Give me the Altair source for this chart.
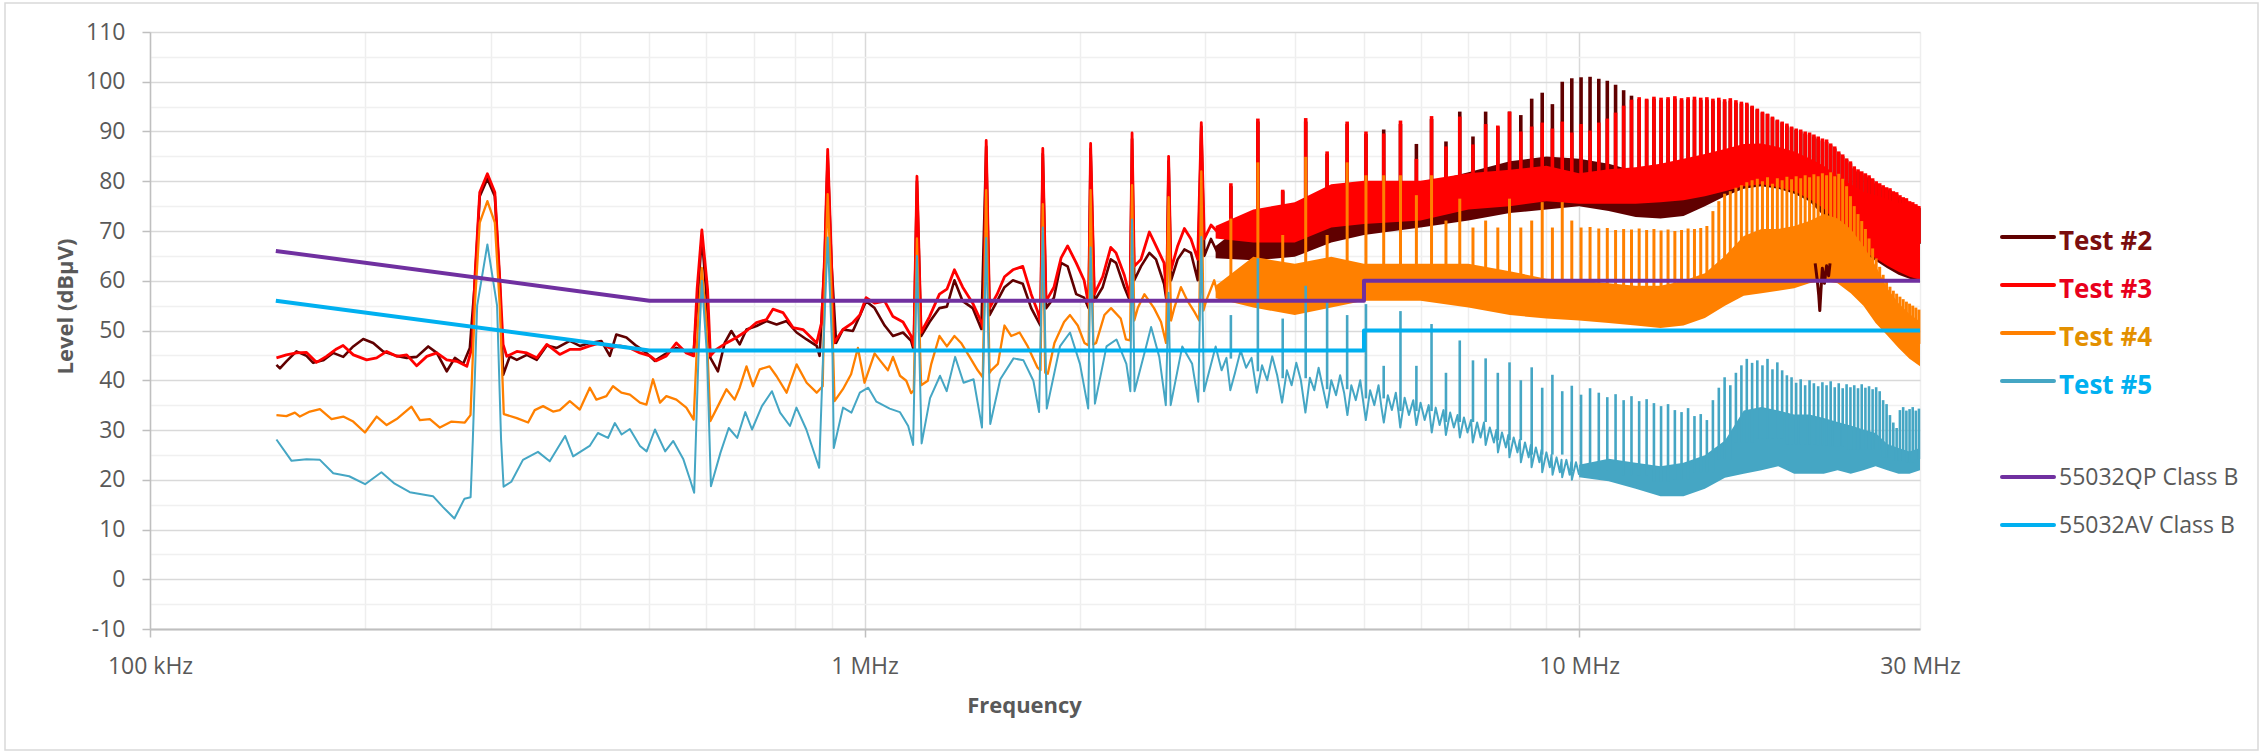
import altair as alt
import pandas as pd
import numpy as np

# ---------------- data (frequency in MHz, level in dBuV) ----------------
T2_F = [0.1503, 0.1520, 0.1552, 0.1603, 0.1656, 0.1692, 0.1747, 0.1804, 0.1864, 0.1925,
        0.1988, 0.2053, 0.2120, 0.2214, 0.2287, 0.2362, 0.2451, 0.2520, 0.2602, 0.2671,
        0.2744, 0.2803, 0.2848, 0.2894, 0.2966, 0.3038, 0.3087, 0.3121, 0.3188, 0.3261,
        0.3368, 0.3478, 0.3592, 0.3710, 0.3868, 0.3995, 0.4126, 0.4282, 0.4401, 0.4494,
        0.4642, 0.4795, 0.4951, 0.5086, 0.5252, 0.5453, 0.5631, 0.5766, 0.5847, 0.5920,
        0.6005, 0.6085, 0.6235, 0.6372, 0.6510, 0.6687, 0.6836, 0.7060, 0.7292, 0.7532,
        0.7779, 0.8034, 0.8298, 0.8571, 0.8652, 0.8794, 0.8880, 0.8985, 0.9125, 0.9327,
        0.9632, 0.9851, 1.0050, 1.0330, 1.0670, 1.0960, 1.1320, 1.1620, 1.1720, 1.1840,
        1.2000, 1.2330, 1.2730, 1.3040, 1.3360, 1.3720, 1.4170, 1.4570, 1.4800, 1.4960,
        1.5330, 1.5700, 1.6130, 1.6650, 1.7110, 1.7630, 1.7760, 1.7950, 1.8410, 1.8840,
        1.9240, 1.9780, 2.0290, 2.0590, 2.0720, 2.0970, 2.1540, 2.2110, 2.2490, 2.3100,
        2.3530, 2.3680, 2.3850, 2.4370, 2.5040, 2.5580, 2.6250, 2.6470, 2.6640, 2.6850,
        2.7430, 2.8030, 2.8630, 2.9260, 2.9600, 2.9890, 3.0540, 3.1200]
T2_V = [43.1, 42.4, 43.8, 45.8, 44.9, 43.5, 44.0, 45.5, 44.7, 46.8,
        48.3, 47.5, 45.8, 44.9, 44.5, 44.7, 46.8, 45.5, 41.8, 44.5,
        43.3, 46.5, 59.5, 77.0, 80.5, 77.0, 59.5, 41.1, 44.8, 44.1,
        45.1, 44.1, 47.0, 46.5, 47.9, 46.9, 47.5, 47.9, 44.9, 49.2,
        48.6, 46.9, 45.5, 43.9, 45.2, 46.5, 45.9, 45.5, 57.5, 69.0,
        57.5, 44.5, 41.8, 47.5, 49.9, 47.2, 50.2, 50.9, 51.9, 51.2,
        51.9, 49.6, 48.2, 46.9, 44.9, 64.0, 85.0, 64.0, 47.5, 50.2,
        49.9, 53.0, 55.9, 54.5, 51.0, 48.9, 49.6, 47.9, 46.0, 80.0,
        48.9, 51.7, 54.5, 54.8, 60.1, 55.9, 54.5, 50.3, 87.0, 53.1,
        55.9, 58.7, 60.1, 59.4, 54.5, 51.0, 85.5, 54.5, 56.6, 63.6,
        62.9, 57.3, 56.6, 54.5, 86.5, 55.9, 58.7, 64.3, 63.6, 58.7,
        55.9, 88.5, 60.1, 62.9, 65.6, 64.3, 59.4, 55.9, 84.0, 60.1,
        64.3, 66.3, 65.6, 60.1, 91.0, 65.0, 68.4, 65.6]

T3_F = [0.1503, 0.1552, 0.1603, 0.1656, 0.1710, 0.1766, 0.1824, 0.1863, 0.1926, 0.2010,
        0.2076, 0.2144, 0.2214, 0.2287, 0.2362, 0.2440, 0.2520, 0.2602, 0.2688, 0.2776,
        0.2825, 0.2848, 0.2894, 0.2966, 0.3038, 0.3087, 0.3120, 0.3157, 0.3261, 0.3368,
        0.3478, 0.3592, 0.3745, 0.3868, 0.3995, 0.4126, 0.4262, 0.4401, 0.4546, 0.4695,
        0.4849, 0.5008, 0.5112, 0.5280, 0.5453, 0.5631, 0.5766, 0.5830, 0.5920, 0.6030,
        0.6085, 0.6204, 0.6408, 0.6618, 0.6836, 0.7060, 0.7292, 0.7444, 0.7688, 0.7940,
        0.8200, 0.8571, 0.8708, 0.8794, 0.8880, 0.8985, 0.9061, 0.9327, 0.9632, 0.9851,
        1.0050, 1.0330, 1.0670, 1.0960, 1.1320, 1.1620, 1.1720, 1.1840, 1.2000, 1.2330,
        1.2730, 1.3040, 1.3360, 1.3720, 1.4170, 1.4570, 1.4670, 1.4800, 1.4960, 1.5330,
        1.5700, 1.6130, 1.6650, 1.7110, 1.7470, 1.7630, 1.7760, 1.7950, 1.8410, 1.8840,
        1.9240, 1.9780, 2.0290, 2.0590, 2.0720, 2.0970, 2.1540, 2.2110, 2.2490, 2.3100,
        2.3530, 2.3680, 2.3850, 2.4370, 2.5040, 2.5580, 2.6250, 2.6470, 2.6640, 2.6850,
        2.7430, 2.8030, 2.8630, 2.9260, 2.9600, 2.9890, 3.0540, 3.1200]
T3_V = [44.5, 45.1, 45.5, 45.6, 43.6, 44.8, 46.3, 47.0, 45.1, 44.1,
        44.5, 45.8, 44.8, 45.1, 42.9, 44.8, 45.5, 44.1, 43.8, 42.8,
        46.8, 60.3, 77.8, 81.5, 77.8, 60.3, 47.2, 44.8, 45.8, 45.5,
        44.5, 47.2, 45.2, 46.2, 46.2, 46.9, 47.5, 46.5, 46.9, 46.5,
        45.5, 44.9, 43.9, 44.9, 47.5, 45.5, 44.9, 58.3, 70.2, 58.3,
        44.9, 46.2, 47.5, 48.6, 49.9, 51.6, 52.2, 54.3, 53.6, 50.6,
        50.2, 47.5, 51.6, 65.0, 86.4, 65.0, 47.5, 50.2, 51.6, 53.1,
        56.6, 55.5, 55.9, 52.8, 51.7, 48.9, 46.8, 81.0, 49.6, 52.8,
        57.3, 58.3, 62.2, 58.7, 55.5, 51.7, 50.3, 88.2, 54.5, 57.3,
        60.8, 62.2, 62.9, 57.3, 53.8, 51.7, 86.6, 55.9, 58.7, 64.6,
        67.0, 63.6, 60.1, 55.2, 87.6, 57.3, 60.8, 66.7, 65.6, 61.1,
        56.6, 89.7, 62.9, 64.3, 69.8, 67.0, 63.6, 56.6, 85.0, 62.2,
        67.0, 70.5, 68.4, 64.3, 91.8, 68.4, 71.2, 69.8]

T4_F = [0.1503, 0.1552, 0.1595, 0.1621, 0.1674, 0.1729, 0.1795, 0.1864, 0.1925, 0.1999,
        0.2076, 0.2144, 0.2214, 0.2322, 0.2386, 0.2464, 0.2545, 0.2642, 0.2758, 0.2809,
        0.2848, 0.2894, 0.2966, 0.3038, 0.3087, 0.3127, 0.3261, 0.3382, 0.3455, 0.3549,
        0.3665, 0.3745, 0.3868, 0.3995, 0.4126, 0.4214, 0.4352, 0.4446, 0.4568, 0.4695,
        0.4849, 0.4951, 0.5058, 0.5173, 0.5280, 0.5453, 0.5631, 0.5766, 0.5847, 0.5920,
        0.6005, 0.6085, 0.6270, 0.6408, 0.6580, 0.6687, 0.6836, 0.6980, 0.7133, 0.7363,
        0.7532, 0.7779, 0.8034, 0.8298, 0.8571, 0.8738, 0.8794, 0.8880, 0.8985, 0.9078,
        0.9327, 0.9576, 0.9788, 1.0000, 1.0330, 1.0510, 1.0780, 1.0960, 1.1210, 1.1440,
        1.1620, 1.1720, 1.1840, 1.2000, 1.2260, 1.2400, 1.2730, 1.3040, 1.3360, 1.3650,
        1.4030, 1.4400, 1.4640, 1.4800, 1.4960, 1.5040, 1.5370, 1.5700, 1.6040, 1.6480,
        1.6920, 1.7450, 1.7630, 1.7760, 1.7900, 1.8050, 1.8440, 1.9020, 1.9390, 1.9880,
        2.0310, 2.0590, 2.0720, 2.0900, 2.1090, 2.1660, 2.2130, 2.2830, 2.3220, 2.3530,
        2.3680, 2.3850, 2.4120, 2.4640, 2.5420, 2.6000, 2.6420, 2.6640, 2.6850, 2.7130,
        2.7720, 2.8330, 2.8940, 2.9400, 2.9600, 2.9800, 3.0060, 3.0860, 3.1200]
T4_V = [33.0, 32.8, 33.5, 32.7, 33.7, 34.2, 32.2, 32.7, 31.7, 29.5,
        32.7, 31.0, 32.2, 34.7, 32.0, 32.2, 30.5, 31.7, 31.5, 33.0,
        54.9, 71.7, 76.0, 71.7, 54.9, 33.2, 32.4, 31.5, 34.0, 34.8,
        33.7, 34.0, 35.8, 34.1, 38.5, 36.1, 36.8, 38.8, 37.5, 37.1,
        35.5, 35.1, 40.2, 35.5, 36.8, 36.1, 34.5, 32.1, 51.6, 62.6,
        51.6, 31.8, 35.5, 38.2, 36.1, 38.5, 42.8, 38.8, 42.2, 42.8,
        40.8, 37.5, 43.2, 39.5, 37.5, 38.8, 58.3, 77.4, 58.3, 35.8,
        38.2, 41.2, 46.5, 39.5, 45.4, 44.0, 42.0, 44.7, 40.9, 39.9,
        37.4, 38.0, 68.5, 39.0, 39.9, 43.3, 48.9, 46.8, 48.9, 47.5,
        44.7, 42.0, 40.6, 78.2, 41.5, 42.0, 43.3, 51.0, 48.9, 49.6,
        46.8, 42.6, 42.0, 75.4, 41.5, 41.3, 47.5, 51.7, 53.1, 51.0,
        47.5, 47.0, 78.2, 47.2, 47.5, 53.1, 54.5, 52.4, 48.2, 48.0,
        79.2, 52.0, 54.5, 57.3, 54.5, 51.7, 47.5, 76.8, 52.0, 54.5,
        58.7, 55.9, 53.8, 52.0, 82.0, 54.0, 55.9, 60.1, 57.3]

T5_F = [0.1503, 0.1578, 0.1656, 0.1729, 0.1805, 0.1900, 0.2000, 0.2108, 0.2200, 0.2310,
        0.2489, 0.2571, 0.2667, 0.2755, 0.2810, 0.2830, 0.2870, 0.2966, 0.3060, 0.3100,
        0.3125, 0.3204, 0.3326, 0.3491, 0.3626, 0.3810, 0.3910, 0.4124, 0.4235, 0.4375,
        0.4473, 0.4571, 0.4694, 0.4850, 0.4955, 0.5090, 0.5260, 0.5399, 0.5578, 0.5700,
        0.5775, 0.5856, 0.5920, 0.6020, 0.6096, 0.6285, 0.6456, 0.6634, 0.6810, 0.6959,
        0.7184, 0.7419, 0.7618, 0.7864, 0.8030, 0.8290, 0.8640, 0.8750, 0.8880, 0.9020,
        0.9056, 0.9330, 0.9587, 0.9850, 1.0120, 1.0390, 1.0845, 1.1205, 1.1510, 1.1695,
        1.1840, 1.2020, 1.2350, 1.2755, 1.3030, 1.3390, 1.3760, 1.4210, 1.4600, 1.4800,
        1.4995, 1.5487, 1.6162, 1.6689, 1.7230, 1.7550, 1.7760, 1.7990, 1.8770, 1.9390,
        2.0020, 2.0560, 2.0720, 2.1010, 2.1810, 2.2520, 2.3250, 2.3550, 2.3680, 2.3870,
        2.4780, 2.5180, 2.5850, 2.6400, 2.6640, 2.6820, 2.7840, 2.8740, 2.9310, 2.9600,
        2.9860, 3.1000,
        3.16, 3.21, 3.25, 3.30, 3.36, 3.42, 3.48, 3.54, 3.60, 3.66,
        3.72, 3.78, 3.84, 3.90, 3.96, 4.02, 4.08, 4.14, 4.20, 4.26,
        4.32, 4.38, 4.44, 4.50, 4.57, 4.63, 4.69, 4.74, 4.80, 4.87,
        4.94, 4.99, 5.03, 5.10, 5.17, 5.24, 5.29, 5.33, 5.40, 5.47,
        5.54, 5.59, 5.62, 5.70, 5.78, 5.86, 5.92, 6.00, 6.08, 6.16,
        6.22, 6.30, 6.38, 6.46, 6.51, 6.60, 6.68, 6.76, 6.81, 6.90,
        6.98, 7.06, 7.10, 7.20, 7.28, 7.36, 7.40, 7.50, 7.60, 7.66,
        7.70, 7.80, 7.90, 7.96, 7.99, 8.10, 8.20, 8.26, 8.29, 8.40,
        8.50, 8.56, 8.58, 8.70, 8.80, 8.86, 8.88, 9.00, 9.10, 9.15,
        9.18, 9.30, 9.40, 9.45, 9.47, 9.60, 9.70, 9.75, 9.77, 9.90,
        10.00]
T5_V = [28.1, 23.8, 24.1, 24.0, 21.3, 20.7, 19.1, 21.5, 19.2, 17.5,
        16.7, 14.5, 12.2, 16.2, 16.5, 28.0, 55.0, 67.3, 55.0, 28.0,
        18.6, 19.6, 24.0, 25.6, 23.7, 28.8, 24.7, 26.8, 29.4, 28.4,
        31.4, 29.1, 30.2, 26.8, 25.7, 30.1, 25.7, 27.8, 24.1, 20.0,
        17.4, 44.9, 60.0, 44.9, 18.7, 25.4, 30.4, 28.4, 33.6, 30.1,
        34.8, 37.8, 33.5, 30.8, 34.5, 30.1, 22.4, 44.9, 68.7, 44.9,
        26.4, 34.5, 33.5, 37.5, 38.5, 35.7, 34.3, 33.6, 30.8, 27.0,
        65.0, 27.3, 36.4, 40.9, 37.8, 44.7, 39.5, 40.2, 30.5, 68.6,
        31.2, 40.2, 44.4, 44.0, 39.9, 33.6, 70.7, 34.3, 46.8, 49.6,
        43.3, 34.3, 66.7, 35.3, 46.8, 48.2, 43.3, 37.8, 72.3, 37.8,
        46.8, 50.7, 44.7, 35.0, 57.6, 35.0, 46.8, 43.3, 35.7, 68.8,
        37.8, 46.8,
        42.0, 44.5, 38.0, 41.5, 46.0, 42.5, 44.5, 37.5, 43.0, 40.0,
        44.8, 41.0, 35.5, 42.0, 39.0, 43.5, 40.0, 33.5, 40.5, 38.0,
        42.5, 38.5, 34.5, 40.0, 37.0, 41.0, 37.5, 33.0, 39.0, 36.0,
        40.0, 35.5, 32.0, 38.0, 35.0, 39.0, 34.5, 31.5, 37.0, 34.0,
        37.5, 33.5, 30.5, 36.5, 33.0, 36.0, 31.0, 35.5, 32.0, 35.0,
        29.5, 34.5, 31.0, 34.0, 29.0, 33.5, 30.5, 33.0, 28.5, 32.5,
        29.5, 32.0, 27.5, 31.5, 28.5, 31.5, 27.0, 30.5, 27.5, 30.0,
        25.5, 29.5, 26.5, 29.0, 24.5, 28.5, 25.5, 28.0, 23.5, 27.5,
        24.5, 27.0, 22.5, 26.5, 23.5, 26.0, 21.5, 25.5, 22.5, 25.0,
        21.0, 24.5, 21.5, 24.0, 20.5, 24.0, 21.0, 23.5, 20.0, 23.5,
        21.0]

# dense part (3 - 30 MHz): envelope of the noise band
BAND_F = [3.1, 3.5, 4, 4.5, 5, 6, 7, 8, 9, 10,
          11, 12, 13, 14, 15, 16, 17, 18, 19, 20,
          21, 22, 23, 24, 25, 26, 27, 28, 29, 30]
T2_LO = [64.5, 64.1, 64.8, 67.7, 69.2, 70.7, 72.1, 73.6, 74.3, 75.0,
         74.0, 72.8, 72.5, 73.0, 75.0, 77.0, 78.5, 79.0, 78.5, 77.5,
         76.0, 73.0, 70.5, 68.0, 65.5, 64.0, 62.5, 61.2, 60.4, 60.0]
T2_HI = [67.0, 72.8, 74.3, 77.2, 78.0, 79.4, 81.8, 84.0, 85.0, 84.5,
         83.5, 82.0, 82.5, 83.5, 85.0, 86.0, 87.0, 87.0, 86.0, 85.0,
         84.0, 82.5, 80.5, 79.0, 77.5, 77.0, 76.0, 75.5, 75.3, 74.8]
T3_LO = [68.5, 67.7, 67.7, 70.7, 71.4, 72.1, 74.3, 75.0, 76.0, 75.5,
         75.5, 75.5, 75.8, 76.2, 77.0, 78.0, 79.0, 79.4, 78.8, 78.0,
         76.5, 74.5, 71.5, 69.0, 66.0, 64.5, 63.0, 61.8, 60.8, 60.2]
T3_HI = [71.0, 74.3, 75.8, 79.4, 80.1, 80.1, 81.6, 82.3, 83.1, 81.6,
         82.4, 82.8, 83.5, 84.5, 85.5, 86.5, 87.5, 87.6, 86.9, 86.0,
         84.6, 83.1, 81.0, 79.4, 77.9, 77.2, 76.4, 75.7, 75.5, 75.0]
T4_LO = [56.5, 54.6, 53.1, 54.6, 56.0, 56.0, 54.6, 53.1, 52.4, 52.0,
         51.5, 51.0, 50.5, 51.0, 52.5, 55.0, 57.0, 57.5, 58.0, 58.5,
         59.5, 60.0, 59.5, 57.5, 55.0, 51.5, 49.0, 46.5, 44.3, 42.8]
T4_HI = [59.0, 64.8, 63.4, 64.8, 63.4, 63.4, 63.4, 61.9, 60.4, 60.0,
         59.5, 59.0, 59.0, 60.0, 61.5, 65.0, 69.0, 70.4, 70.4, 71.0,
         72.0, 73.4, 72.5, 70.4, 67.0, 63.0, 58.5, 55.5, 53.3, 51.8]
T5_LO = [40.7, 38.5, 36.4, 34.9, 32.7, 30.5, 28.3, 24.7, 21.8, 20.5,
         19.7, 18.2, 16.7, 16.7, 18.2, 20.4, 21.2, 21.9, 22.7, 21.2,
         21.2, 21.2, 21.9, 21.2, 21.9, 22.7, 21.9, 21.2, 21.2, 21.9]
T5_HI = [48.0, 45.1, 44.4, 41.5, 40.0, 37.1, 34.9, 31.2, 28.3, 23.0,
         24.2, 23.4, 22.7, 23.4, 24.9, 27.9, 33.9, 34.6, 33.9, 33.1,
         33.1, 32.4, 31.6, 30.9, 30.1, 29.4, 27.2, 26.4, 25.7, 26.4]

# harmonic lines (switching frequency ~296 kHz, harmonics 11..101)
HARM_F = [3.256, 3.552, 3.848, 4.144, 4.440, 4.736, 5.032, 5.328, 5.624, 5.920,
          6.216, 6.512, 6.808, 7.104, 7.400, 7.696, 7.992, 8.288, 8.584, 8.880,
          9.176, 9.472, 9.768, 10.064, 10.360, 10.656, 10.952, 11.248, 11.544, 11.840,
          12.136, 12.432, 12.728, 13.024, 13.320, 13.616, 13.912, 14.208, 14.504, 14.800,
          15.096, 15.392, 15.688, 15.984, 16.280, 16.576, 16.872, 17.168, 17.464, 17.760,
          18.056, 18.352, 18.648, 18.944, 19.240, 19.536, 19.832, 20.128, 20.424, 20.720,
          21.016, 21.312, 21.608, 21.904, 22.200, 22.496, 22.792, 23.088, 23.384, 23.680,
          23.976, 24.272, 24.568, 24.864, 25.160, 25.456, 25.752, 26.048, 26.344, 26.640,
          26.936, 27.232, 27.528, 27.824, 28.120, 28.416, 28.712, 29.008, 29.304, 29.600,
          29.896]
T2_PK = [79.0, 92.0, 78.0, 92.0, 85.5, 91.5, 89.5, 90.4, 91.5, 87.5,
         92.5, 88.0, 94.0, 89.0, 94.0, 91.0, 94.0, 93.3, 96.6, 97.8,
         95.5, 100.0, 100.7, 100.9, 101.0, 100.6, 100.2, 99.4, 98.3, 97.2,
         96.5, 96.4, 96.6, 96.3, 96.5, 96.6, 96.3, 96.5, 96.4, 96.3,
         96.4, 96.2, 96.3, 96.0, 96.2, 95.8, 95.6, 95.5, 95.0, 94.4,
         93.8, 93.5, 92.8, 92.2, 91.8, 91.2, 90.8, 90.3, 90.0, 89.6,
         89.4, 89.0, 88.6, 88.2, 87.9, 87.2, 86.6, 85.6, 85.0, 84.3,
         83.6, 82.6, 82.0, 81.6, 81.2, 80.8, 80.2, 79.6, 79.2, 78.8,
         78.4, 78.2, 77.6, 77.4, 76.8, 76.4, 76.2, 75.6, 75.4, 75.0,
         74.6]
T3_PK = [79.6, 92.6, 78.3, 92.7, 86.0, 92.0, 90.0, 89.6, 92.2, 84.5,
         93.1, 87.0, 93.0, 87.4, 91.5, 91.2, 94.0, 90.0, 91.0, 91.8,
         90.6, 92.0, 89.8, 91.5, 90.2, 91.8, 92.6, 93.8, 95.2, 96.4,
         96.9, 96.6, 97.0, 96.8, 96.9, 97.1, 96.7, 96.9, 97.0, 96.8,
         96.9, 96.6, 96.8, 96.5, 96.7, 96.3, 96.0, 95.8, 95.2, 94.6,
         94.0, 93.6, 93.0, 92.4, 92.0, 91.6, 91.0, 90.6, 90.4, 90.0,
         89.8, 89.4, 89.0, 88.6, 88.4, 87.6, 87.0, 86.0, 85.4, 84.6,
         84.0, 83.0, 82.4, 82.0, 81.6, 81.2, 80.6, 80.0, 79.6, 79.2,
         78.8, 78.6, 78.0, 77.8, 77.2, 76.8, 76.6, 76.0, 75.8, 75.4,
         75.0]
T4_PK = [72.5, 83.8, 69.2, 84.9, 69.2, 83.8, 81.2, 81.2, 81.2, 77.2,
         81.2, 72.1, 76.5, 70.7, 72.1, 70.7, 76.5, 70.7, 72.1, 75.8,
         70.7, 75.8, 72.1, 70.7, 70.8, 70.5, 70.6, 70.2, 70.4, 70.3,
         70.5, 70.2, 70.4, 70.1, 70.3, 70.0, 70.2, 70.5, 70.4, 70.6,
         71.0, 74.0, 76.0, 77.5, 78.0, 78.7, 79.2, 79.8, 80.2, 80.5,
         80.0, 80.8, 79.5, 80.6, 80.2, 80.9, 80.4, 81.0, 80.6, 81.2,
         80.8, 81.4, 81.0, 81.6, 81.2, 81.8, 81.0, 81.5, 80.5, 79.0,
         77.0, 75.0, 73.4, 72.0, 70.4, 68.5, 66.5, 64.5, 62.8, 61.2,
         60.0, 58.8, 58.0, 57.4, 56.8, 56.3, 55.8, 55.4, 55.0, 54.6,
         54.2]
T5_PK = [53.1, 64.5, 52.4, 59.0, 56.0, 53.1, 55.3, 42.9, 53.9, 42.9,
         51.3, 41.5, 48.0, 44.0, 44.4, 41.5, 43.6, 40.0, 42.6, 38.5,
         41.1, 37.8, 38.9, 37.1, 38.4, 37.5, 36.6, 37.2, 36.0, 36.8,
         35.8, 36.2, 35.4, 34.8, 35.2, 34.0, 33.6, 34.4, 32.8, 33.2,
         32.0, 36.0, 38.5, 40.6, 39.0, 41.5, 43.0, 44.3, 43.5, 44.0,
         43.0, 44.3, 42.2, 43.6, 42.0, 41.0, 40.6, 39.5, 40.2, 39.0,
         40.0, 39.4, 38.8, 39.6, 39.0, 39.8, 38.6, 39.4, 38.4, 39.2,
         38.6, 39.0, 38.4, 39.2, 38.5, 38.8, 38.2, 38.6, 37.8, 36.0,
         35.2, 33.0, 31.5, 30.4, 34.0, 34.6, 33.9, 34.2, 34.6, 33.9,
         34.3]

# Test #2 dip near 22 MHz
DIP_F = [21.40, 21.55, 21.65, 21.72, 21.80, 21.90, 22.05, 22.20, 22.35, 22.45]
DIP_V = [63.5, 60.0, 57.0, 54.0, 58.0, 62.5, 59.5, 63.0, 61.0, 63.5]

# EN 55032 class B limits
LIM_F = [0.15, 0.5, 5, 5, 30]
QP_V = [66, 56, 56, 60, 60]
AV_V = [56, 46, 46, 50, 50]

X_TICKS = [0.1, 0.2, 0.3, 0.4, 0.5, 0.6, 0.7, 0.8, 0.9,
           1, 2, 3, 4, 5, 6, 7, 8, 9, 10, 20, 30]
Y_TICKS = [-10, -5, 0, 5, 10, 15, 20, 25, 30, 35, 40, 45, 50, 55,
           60, 65, 70, 75, 80, 85, 90, 95, 100, 105, 110]

# ---------------- styles ----------------
C_T2 = "#600000"
C_T3 = "#FF0000"
C_T4 = "#FF8000"
C_T5 = "#45A6C4"
C_QP = "#7030A0"
C_AV = "#00B0F0"
GREY = "#595959"
FONT = "Open Sans"

W, H = 1770, 597

xs = alt.Scale(type="log", domain=[0.1, 30], nice=False)
ys = alt.Scale(domain=[-10, 110], nice=False, zero=False)

x_axis = alt.Axis(
    values=X_TICKS,
    labelExpr="datum.value == 0.1 ? '100 kHz' : datum.value == 1 ? '1 MHz' : "
              "datum.value == 10 ? '10 MHz' : datum.value == 30 ? '30 MHz' : ''",
    labelFont=FONT, labelFontSize=23, labelColor=GREY, labelPadding=18,
    labelFlush=False, labelOverlap=False,
    grid=True, gridWidth=1.5,
    gridColor={"condition": {"test": "datum.value == 1 || datum.value == 10", "value": "#D9D9D9"},
               "value": "#EEEEEE"},
    tickSize=8, tickWidth=1.5, tickColor="#BFBFBF",
    tickOpacity={"condition": {"test": "datum.value == 0.1 || datum.value == 1 || datum.value == 10",
                               "value": 1}, "value": 0},
    domainColor="#BFBFBF", domainWidth=2,
    title="Frequency", titleFont=FONT, titleFontSize=22, titleFontWeight="bold",
    titleColor=GREY, titleX=874, titleY=76, titleAlign="center", titleBaseline="middle",
)
y_axis = alt.Axis(
    values=Y_TICKS,
    labelExpr="datum.value % 10 == 0 ? '' + datum.value : ''",
    labelFont=FONT, labelFontSize=23, labelColor=GREY, labelPadding=17,
    grid=True, gridWidth=1.5,
    gridColor={"condition": {"test": "datum.value % 10 == 0", "value": "#D9D9D9"},
               "value": "#F0F0F0"},
    tickSize=8, tickWidth=1.5, tickColor="#BFBFBF",
    tickOpacity={"condition": {"test": "datum.value % 10 == 0", "value": 1}, "value": 0},
    domainColor="#BFBFBF", domainWidth=1.5,
    title="Level (dBµV)", titleFont=FONT, titleFontSize=22, titleFontWeight="bold",
    titleColor=GREY, titleX=-85, titleY=274, titleAngle=270,
    titleAlign="center", titleBaseline="middle",
)


def X(field="f"):
    return alt.X(f"{field}:Q", scale=xs, axis=x_axis)


def Y(field):
    return alt.Y(f"{field}:Q", scale=ys, axis=y_axis)


def trace(f, v, color, w):
    df = pd.DataFrame({"f": f, "v": v, "i": list(range(len(f)))})
    return alt.Chart(df).mark_line(color=color, strokeWidth=w, strokeJoin="round").encode(
        x=X(), y=Y("v"), order=alt.Order("i:Q"))


def band(lo, hi, color, start=0):
    df = pd.DataFrame({"f": BAND_F[start:], "lo": lo[start:], "hi": hi[start:]})
    return alt.Chart(df).mark_area(color=color, opacity=1).encode(
        x=X(), y=Y("lo"), y2="hi")


def spikes(pk, lo, hi, color, w):
    logb = np.log(np.array(BAND_F))
    base = []
    for fq in HARM_F:
        j = int(np.argmin(np.abs(logb - np.log(fq))))
        base.append((lo[j] + hi[j]) / 2.0)
    df = pd.DataFrame({"f": HARM_F, "pk": pk, "base": base})
    return alt.Chart(df).mark_rule(color=color, strokeWidth=w).encode(
        x=X(), y=Y("pk"), y2="base")


one = alt.Data(values=[{}])

frame = alt.Chart(one).mark_rect(fill="white", fillOpacity=0, stroke="#D9D9D9",
                                 strokeWidth=1.5).encode(
    x=alt.value(-145), x2=alt.value(2108), y=alt.value(-29), y2=alt.value(718))

layers = [frame,
          trace(T2_F, T2_V, C_T2, 2.6), band(T2_LO, T2_HI, C_T2), spikes(T2_PK, T2_LO, T2_HI, C_T2, 3.6),
          trace(T3_F, T3_V, C_T3, 2.8), band(T3_LO, T3_HI, C_T3), spikes(T3_PK, T3_LO, T3_HI, C_T3, 3.6),
          trace(T4_F, T4_V, C_T4, 2.3), band(T4_LO, T4_HI, C_T4), spikes(T4_PK, T4_LO, T4_HI, C_T4, 3.0),
          trace(T5_F, T5_V, C_T5, 2.0), band(T5_LO, T5_HI, C_T5, start=9),
          spikes(T5_PK, T5_LO, T5_HI, C_T5, 2.6),
          trace(DIP_F, DIP_V, C_T2, 3.0),
          trace(LIM_F, QP_V, C_QP, 4.0),
          trace(LIM_F, AV_V, C_AV, 4.0)]

# legend (drawn manually to allow coloured labels)
LEG = [("Test #2", C_T2, "#7B0E0E", 205, 210, 26, "bold"),
       ("Test #3", C_T3, "#E8001C", 253, 258, 26, "bold"),
       ("Test #4", C_T4, "#E39000", 301, 306, 26, "bold"),
       ("Test #5", C_T5, "#00B0F0", 349, 354, 26, "bold"),
       ("55032QP Class B", C_QP, GREY, 445, 446, 23, "normal"),
       ("55032AV Class B", C_AV, GREY, 493, 494, 23, "normal")]
for txt, lc, tc, ly, ty, fs, fw in LEG:
    layers.append(alt.Chart(one).mark_rule(color=lc, strokeWidth=4, strokeCap="round").encode(
        x=alt.value(1852), x2=alt.value(1904), y=alt.value(ly)))
    layers.append(alt.Chart(one).mark_text(text=txt, align="left", baseline="middle", font=FONT,
                                           fontSize=fs, fontWeight=fw, color=tc).encode(
        x=alt.value(1909), y=alt.value(ty)))

chart = alt.layer(*layers).properties(
    width=W, height=H,
    padding={"left": 150, "top": 32, "right": 343, "bottom": 126},
    autosize=alt.AutoSizeParams(type="none"),
).configure_view(stroke=None)

chart.save("out.html", embed_options={"renderer": "svg", "actions": False})
